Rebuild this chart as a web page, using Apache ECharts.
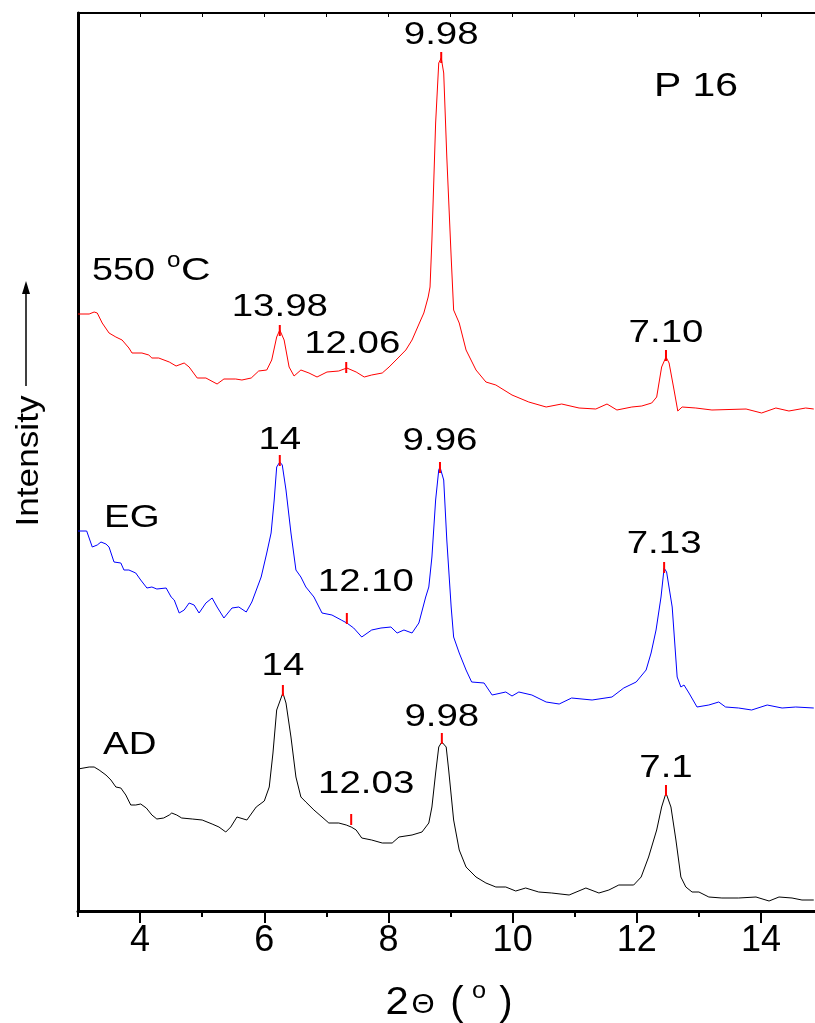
<!DOCTYPE html>
<html><head><meta charset="utf-8">
<script src="https://cdn.jsdelivr.net/npm/echarts@6/dist/echarts.min.js"></script>
<style>html,body{margin:0;padding:0;background:#fff}#c{width:815px;height:1023px}</style>
</head><body><div id="c"></div>
<script>
// ---------- data (2θ in degrees, intensity in arbitrary counts) ----------
const xTicks = [4, 6, 8, 10, 12, 14];
const xMinorTicks = [3, 5, 7, 9, 11, 13];
const xAllTicks = [3, 4, 5, 6, 7, 8, 9, 10, 11, 12, 13, 14];

const ad = [[3.00,142],[3.18,144],[3.26,144],[3.34,141],[3.45,136],[3.53,131],[3.61,124],[3.69,123],[3.77,116],[3.85,106],[3.93,106],[4.01,107],[4.10,103],[4.19,96],[4.27,92],[4.38,93],[4.47,96],[4.51,98],[4.59,96],[4.67,93],[4.84,92],[5.00,91],[5.16,87],[5.27,84],[5.38,79],[5.46,84],[5.56,94],[5.72,91],[5.87,104],[6.00,110],[6.08,124],[6.14,158],[6.20,201],[6.27,213],[6.30,218],[6.35,208],[6.43,174],[6.51,134],[6.59,114],[6.67,109],[6.80,101],[6.93,94],[7.04,88],[7.20,88],[7.32,86],[7.40,84],[7.48,81],[7.57,73],[7.73,71],[7.90,68],[8.06,68],[8.17,74],[8.38,76],[8.54,79],[8.65,88],[8.70,104],[8.76,138],[8.81,164],[8.86,169],[8.93,164],[8.97,141],[9.05,91],[9.14,61],[9.25,44],[9.41,34],[9.57,28],[9.73,24],[9.89,24],[10.05,20],[10.21,23],[10.42,19],[10.63,18],[10.91,16],[11.18,23],[11.39,18],[11.55,21],[11.71,26],[11.95,26],[12.07,34],[12.19,54],[12.32,81],[12.40,104],[12.47,118],[12.55,104],[12.63,71],[12.71,34],[12.79,24],[12.89,19],[13.00,19],[13.16,14],[13.37,13],[13.64,13],[13.92,14],[14.13,10],[14.29,14],[14.50,13],[14.66,11],[14.85,11]];

const eg = [[3.00,380],[3.14,380],[3.23,364],[3.31,366],[3.37,369],[3.45,367],[3.50,364],[3.58,349],[3.69,348],[3.74,341],[3.82,341],[3.93,338],[4.01,331],[4.11,323],[4.19,324],[4.27,322],[4.42,323],[4.50,314],[4.55,311],[4.63,298],[4.71,301],[4.79,308],[4.87,306],[4.95,298],[5.06,308],[5.16,313],[5.24,304],[5.35,293],[5.48,303],[5.59,304],[5.71,299],[5.80,309],[5.95,334],[6.04,358],[6.11,378],[6.16,411],[6.20,444],[6.25,449],[6.29,446],[6.35,421],[6.43,378],[6.51,341],[6.59,334],[6.67,324],[6.80,314],[6.93,298],[7.09,296],[7.24,291],[7.33,288],[7.44,283],[7.57,274],[7.73,281],[7.88,283],[8.04,284],[8.14,278],[8.25,281],[8.38,278],[8.49,288],[8.60,314],[8.65,324],[8.70,354],[8.76,411],[8.81,441],[8.83,444],[8.89,431],[8.94,371],[9.01,304],[9.05,274],[9.14,258],[9.25,241],[9.34,229],[9.54,228],[9.67,216],[9.89,219],[9.99,215],[10.10,219],[10.31,216],[10.54,209],[10.75,207],[10.95,213],[11.28,211],[11.60,214],[11.79,223],[11.99,229],[12.15,241],[12.23,258],[12.31,281],[12.39,314],[12.44,343],[12.48,339],[12.57,304],[12.65,234],[12.71,224],[12.76,226],[12.84,218],[12.97,204],[13.16,206],[13.32,209],[13.43,204],[13.64,203],[13.85,201],[14.10,206],[14.34,203],[14.56,204],[14.85,203]];

const h550 = [[3.00,597],[3.18,597],[3.26,599],[3.31,598],[3.39,588],[3.50,578],[3.61,574],[3.71,571],[3.82,563],[3.87,558],[4.03,558],[4.14,556],[4.19,553],[4.30,553],[4.47,549],[4.58,545],[4.71,548],[4.79,544],[4.92,533],[5.06,533],[5.24,527],[5.35,532],[5.54,532],[5.64,531],[5.79,533],[5.91,540],[6.04,541],[6.12,551],[6.20,574],[6.25,581],[6.32,571],[6.40,544],[6.48,535],[6.59,541],[6.72,538],[6.85,534],[7.01,539],[7.20,540],[7.33,543],[7.48,539],[7.61,534],[7.73,536],[7.90,538],[8.01,544],[8.17,554],[8.28,561],[8.38,571],[8.52,591],[8.57,598],[8.64,614],[8.67,624],[8.70,671],[8.76,788],[8.81,848],[8.85,853],[8.89,838],[8.94,754],[9.01,654],[9.05,601],[9.14,588],[9.25,561],[9.41,541],[9.57,529],[9.73,526],[9.99,516],[10.26,509],[10.54,504],[10.79,507],[11.07,503],[11.34,502],[11.52,507],[11.68,501],[11.92,504],[12.08,505],[12.24,508],[12.32,514],[12.40,544],[12.47,554],[12.52,548],[12.60,521],[12.66,500],[12.73,504],[12.95,503],[13.21,501],[13.76,502],[14.01,498],[14.24,503],[14.45,500],[14.72,503],[14.85,502]];

// peak markers: 2θ position, top of the red tick (intensity), d-spacing label
const h550PeakPos = [6.25, 7.32, 8.85, 12.47];
const h550PeakTop = [586, 549, 859, 561];
const h550PeakLbl = ['13.98', '12.06', '9.98', '7.10'];
const egPeakPos = [6.25, 7.33, 8.83, 12.44];
const egPeakTop = [456, 298, 449, 349];
const egPeakLbl = ['14', '12.10', '9.96', '7.13'];
const adPeakPos = [6.30, 7.40, 8.86, 12.47];
const adPeakTop = [226, 97, 178, 126];
const adPeakLbl = ['14', '12.03', '9.98', '7.1'];

// ---------- styles ----------
const FONT = '"Liberation Sans", Arial, sans-serif';
const MARK_LEN = 11;
const LBL_OFF = { // pixel offsets of labels from the marker top [dx, dy]
  h550: [[0,-18],[6,-18],[0,-17],[0,-17]],
  eg:   [[0,-15],[19,-31],[0,-21],[0,-18]],
  ad:   [[0,-19],[15,-30],[0,-16],[0,-17]]
};

function markerData(pos, top) {
  const d = [];
  pos.forEach((p, i) => { d.push([p, top[i] - MARK_LEN], [p, top[i]], [p, '-']); });
  return d;
}
function curve(data, color) {
  return { type: 'line', data, symbol: 'none', lineStyle: { color, width: 1 }, animation: false, z: 2 };
}

const chart = echarts.init(document.getElementById('c'));
chart.setOption({
  animation: false,
  backgroundColor: '#fff',
  grid: { left: 78, right: 0, top: 13, bottom: 112, containLabel: false },
  xAxis: [
    { type: 'value', position: 'bottom', min: 3, max: 14.87,
      axisLine: { show: true, lineStyle: { color: '#000', width: 3 } },
      axisTick: { show: true, inside: false, length: 12, customValues: xTicks, lineStyle: { color: '#000', width: 2 } },
      axisLabel: { show: true, customValues: xTicks, color: '#000', fontFamily: FONT, fontSize: 36, margin: 12 },
      splitLine: { show: false } },
    { type: 'value', position: 'bottom', min: 3, max: 14.87,
      axisLine: { show: false },
      axisTick: { show: true, inside: false, length: 6, customValues: xMinorTicks, lineStyle: { color: '#000', width: 2 } },
      axisLabel: { show: false }, splitLine: { show: false } },
    { type: 'value', position: 'top', min: 3, max: 14.87,
      axisLine: { show: true, lineStyle: { color: '#000', width: 2 } },
      axisTick: { show: true, inside: true, length: 4, customValues: xAllTicks, lineStyle: { color: '#000', width: 1 } },
      axisLabel: { show: false }, splitLine: { show: false } }
  ],
  yAxis: { type: 'value', min: 0, max: 898,
    axisLine: { show: true, lineStyle: { color: '#000', width: 3 } },
    axisTick: { show: false }, axisLabel: { show: false }, splitLine: { show: false } },
  series: [
    curve(ad, '#000000'),
    curve(eg, '#0000ff'),
    curve(h550, '#ff0000'),
    { type: 'line', symbol: 'none', animation: false, z: 3, connectNulls: false,
      lineStyle: { color: '#ff0000', width: 2 },
      data: markerData(h550PeakPos, h550PeakTop).concat(markerData(egPeakPos, egPeakTop), markerData(adPeakPos, adPeakTop)) }
  ]
});

// ---------- annotations ----------
function txt(x, y, text, size, opts) {
  opts = opts || {};
  return { type: 'text', x, y, scaleX: opts.sx || 1.24, rotation: opts.rot || 0, z: 10,
    style: { text, x: 0, y: 0, fill: '#000', font: size + 'px ' + FONT,
      align: opts.align || 'center', verticalAlign: 'middle',
      textAlign: opts.align || 'center', textVerticalAlign: 'middle' } };
}
const g = [];
function addLabels(pos, top, lbl, off) {
  pos.forEach((p, i) => {
    const pt = chart.convertToPixel({ seriesIndex: 0 }, [p, top[i]]);
    g.push(txt(pt[0] + off[i][0], pt[1] + off[i][1], lbl[i], 31));
  });
}
addLabels(h550PeakPos, h550PeakTop, h550PeakLbl, LBL_OFF.h550);
addLabels(egPeakPos, egPeakTop, egPeakLbl, LBL_OFF.eg);
addLabels(adPeakPos, adPeakTop, adPeakLbl, LBL_OFF.ad);

g.push(txt(696, 87, 'P 16', 33));
// sample names
g.push(txt(92, 271, '550', 31, { align: 'left', sx: 1.22 }));
g.push(txt(167, 261, 'o', 22, { align: 'left', sx: 1.1 }));
g.push(txt(181, 271, 'C', 32, { align: 'left', sx: 1.28 }));
g.push(txt(104, 518, 'EG', 31, { align: 'left' }));
g.push(txt(103, 745, 'AD', 31, { align: 'left' }));
// x axis title 2Θ ( ° )
g.push(txt(397, 1004, '2', 38, { sx: 1.1 }));
g.push(txt(423, 1006, 'Θ', 27, { sx: 1.1 }));
g.push(txt(457, 1004, '(', 40, { sx: 1.0 }));
g.push(txt(479, 992, 'o', 23, { sx: 1.1 }));
g.push(txt(506, 1004, ')', 40, { sx: 1.0 }));
// y axis title with arrow
g.push(txt(29, 461, 'Intensity', 32, { rot: Math.PI / 2, sx: 1.1 }));
g.push({ type: 'line', z: 10, shape: { x1: 26, y1: 386, x2: 26, y2: 292 }, style: { stroke: '#000', lineWidth: 1.5 } });
g.push({ type: 'polygon', z: 10, shape: { points: [[26, 281], [22, 294], [30, 294]] }, style: { fill: '#000' } });

chart.setOption({ graphic: g });
</script>
</body></html>
